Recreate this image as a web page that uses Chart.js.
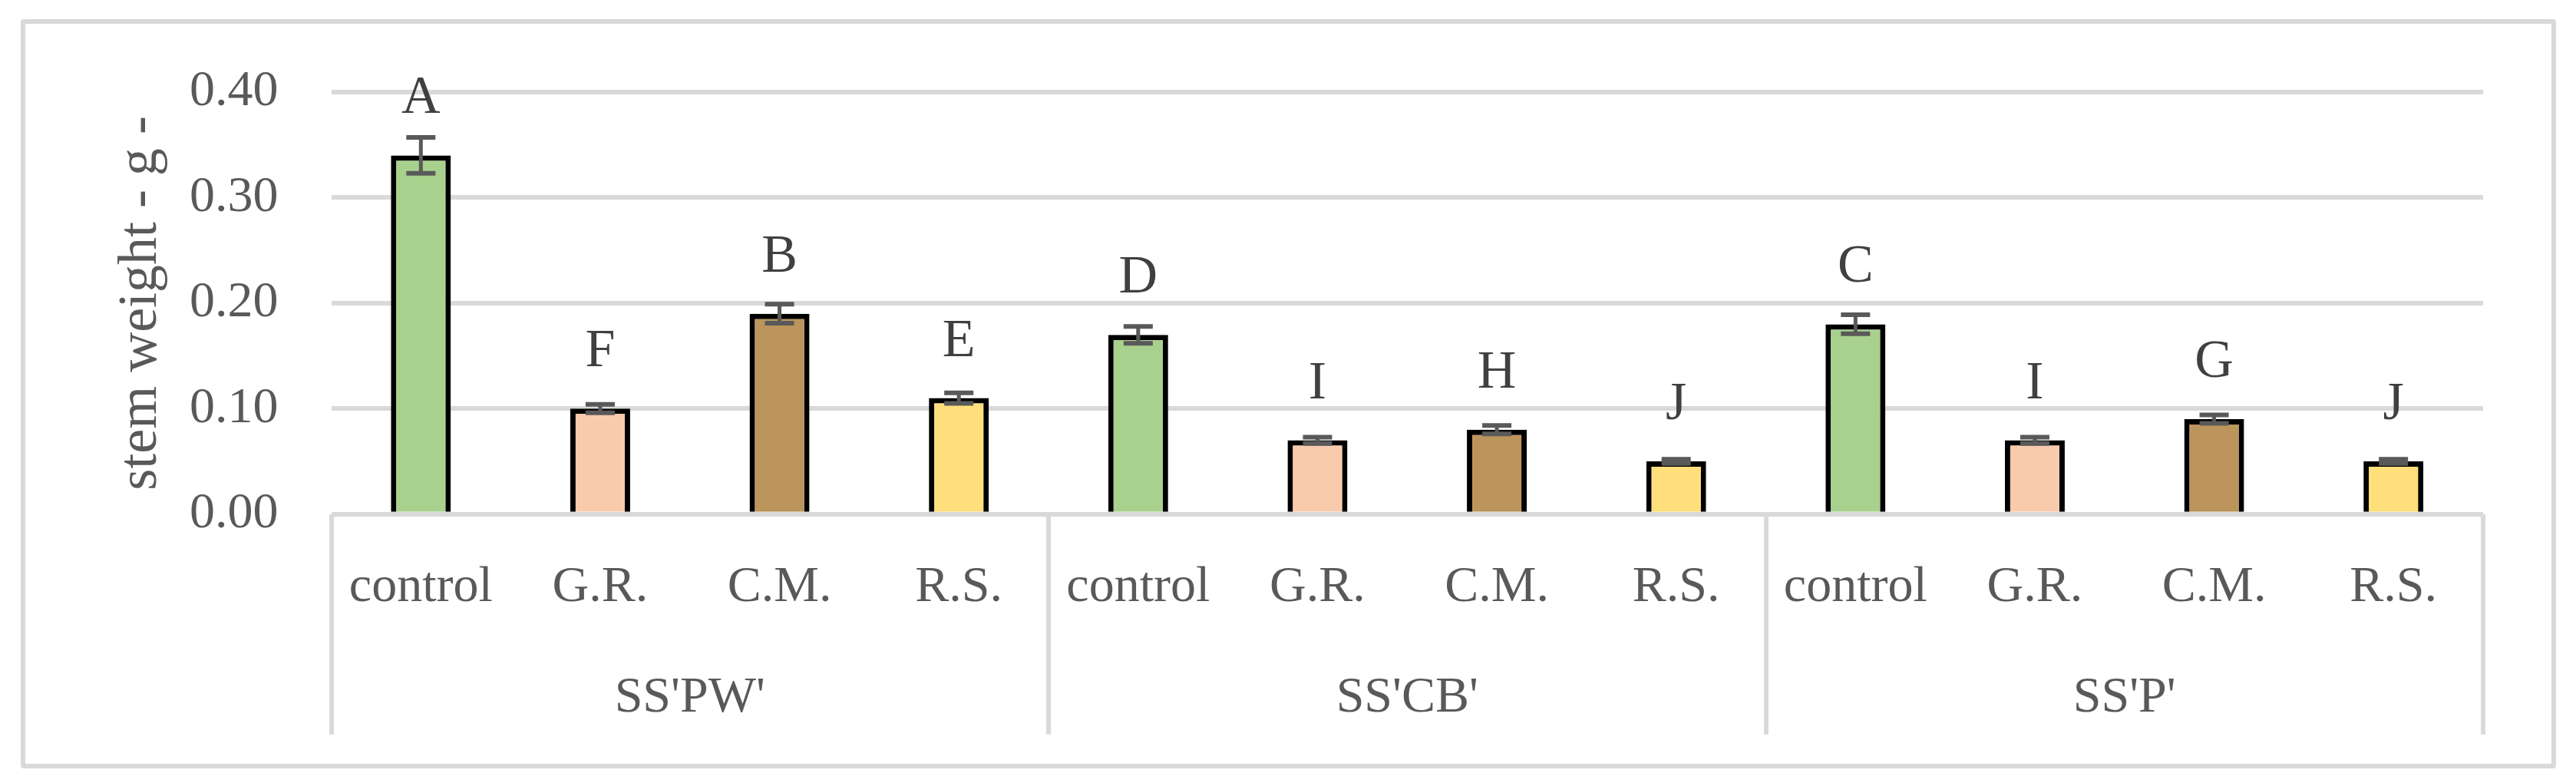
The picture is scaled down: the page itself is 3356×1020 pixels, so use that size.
<!DOCTYPE html>
<html lang="en">
<head>
  <meta charset="utf-8">
  <title>stem weight</title>
  <script src="https://cdn.jsdelivr.net/npm/chart.js"></script>
  <style>
    body { margin: 0; background: #fff; }
    .wrap { position: relative; width: 3356px; height: 1020px; }
    .frame {
      position: absolute; left: 27px; top: 25px; width: 3303px; height: 976px;
      box-sizing: border-box; border: 6px solid #d9d9d9; border-radius: 4px;
    }
    canvas { position: absolute; left: 0; top: 0; }
  </style>
</head>
<body>
  <div class="wrap">
    <div class="frame"></div>
    <canvas id="stemChart" width="3356" height="1020"></canvas>
  </div>

  <script>
    // data
    const treatments = ['control', 'G.R.', 'C.M.', 'R.S.', 'control', 'G.R.', 'C.M.', 'R.S.', 'control', 'G.R.', 'C.M.', 'R.S.'];
    const rootstocks = ["SS'PW'", "SS'CB'", "SS'P'"];
    const stemWeight = [0.34, 0.10, 0.19, 0.11, 0.17, 0.07, 0.08, 0.05, 0.18, 0.07, 0.09, 0.05];
    const stemError = [0.017, 0.004, 0.009, 0.005, 0.008, 0.003, 0.004, 0.002, 0.009, 0.003, 0.004, 0.002];
    const letters = ['A', 'F', 'B', 'E', 'D', 'I', 'H', 'J', 'C', 'I', 'G', 'J'];
    const yTicks = [0, 0.1, 0.2, 0.3, 0.4];

    const barColors = ['#a9d18e', '#f8cbad', '#bc955c', '#ffdf7b'];
    const grey = '#d9d9d9';
    const textGrey = '#595959';
    const serif = '"Liberation Serif", "Times New Roman", serif';

    // separator only at the group boundaries (every 4th category)
    const sepColor = c => (c.index === undefined || c.index % 4 === 0) ? grey : 'rgba(0,0,0,0)';

    // error bars + letters above each bar
    const errorBarsAndLetters = {
      id: 'errorBarsAndLetters',
      afterDatasetsDraw(chart) {
        const ctx = chart.ctx;
        const y = chart.scales.y;
        const bars = chart.getDatasetMeta(0).data;
        ctx.save();
        ctx.strokeStyle = '#595959';
        bars.forEach((bar, i) => {
          const hi = y.getPixelForValue(stemWeight[i] + stemError[i]);
          const lo = y.getPixelForValue(stemWeight[i] - stemError[i]);
          ctx.lineWidth = 5;
          ctx.beginPath();
          ctx.moveTo(bar.x, hi);
          ctx.lineTo(bar.x, lo);
          ctx.stroke();
          ctx.lineWidth = 6;
          ctx.beginPath();
          ctx.moveTo(bar.x - 19, hi);
          ctx.lineTo(bar.x + 19, hi);
          ctx.moveTo(bar.x - 19, lo);
          ctx.lineTo(bar.x + 19, lo);
          ctx.stroke();
        });
        ctx.fillStyle = '#404040';
        ctx.font = '70px ' + serif;
        ctx.textAlign = 'center';
        ctx.textBaseline = 'alphabetic';
        bars.forEach((bar, i) => {
          ctx.fillText(letters[i], bar.x, y.getPixelForValue(stemWeight[i]) - 55);
        });
        ctx.restore();
      }
    };

    new Chart(document.getElementById('stemChart'), {
      type: 'bar',
      data: {
        labels: treatments,
        datasets: [{
          data: stemWeight,
          backgroundColor: treatments.map((t, i) => barColors[i % 4]),
          borderColor: '#000',
          borderWidth: 7,
          categoryPercentage: 1,
          barPercentage: 0.334
        }]
      },
      options: {
        responsive: false,
        devicePixelRatio: 1,
        animation: false,
        layout: { padding: { left: 150, right: 121, top: 120, bottom: 70 } },
        plugins: { legend: { display: false }, tooltip: { enabled: false } },
        scales: {
          y: {
            min: 0,
            max: 0.4,
            afterBuildTicks: axis => { axis.ticks = yTicks.map(v => ({ value: v })); },
            ticks: {
              callback: v => Number(v).toFixed(2),
              color: textGrey,
              font: { family: serif, size: 66 },
              padding: 69
            },
            grid: { color: grey, lineWidth: 6, drawTicks: false },
            border: { display: false },
            title: {
              display: true,
              text: 'stem weight - g -',
              color: textGrey,
              font: { family: serif, size: 72 },
              padding: { top: -9.6, bottom: -48.8 }
            }
          },
          x: {
            // mirrored labels so the long tick marks can run down through both label rows
            ticks: {
              color: textGrey,
              font: { family: serif, size: 66 },
              autoSkip: false,
              maxRotation: 0,
              mirror: true,
              padding: -135.5
            },
            grid: {
              offset: true,
              drawOnChartArea: false,
              drawTicks: true,
              tickLength: 287,
              lineWidth: 6,
              tickWidth: 6,
              color: sepColor,
              tickColor: sepColor
            },
            border: { display: false }
          },
          x2: {
            type: 'category',
            labels: rootstocks,
            position: 'bottom',
            offset: true,
            ticks: {
              color: textGrey,
              font: { family: serif, size: 66 },
              padding: 0.5
            },
            grid: {
              offset: true,
              drawOnChartArea: false,
              drawTicks: true,
              tickLength: 184,
              color: 'rgba(0,0,0,0)',
              tickColor: 'rgba(0,0,0,0)'
            },
            border: { display: false }
          }
        }
      },
      plugins: [errorBarsAndLetters]
    });
  </script>
</body>
</html>
